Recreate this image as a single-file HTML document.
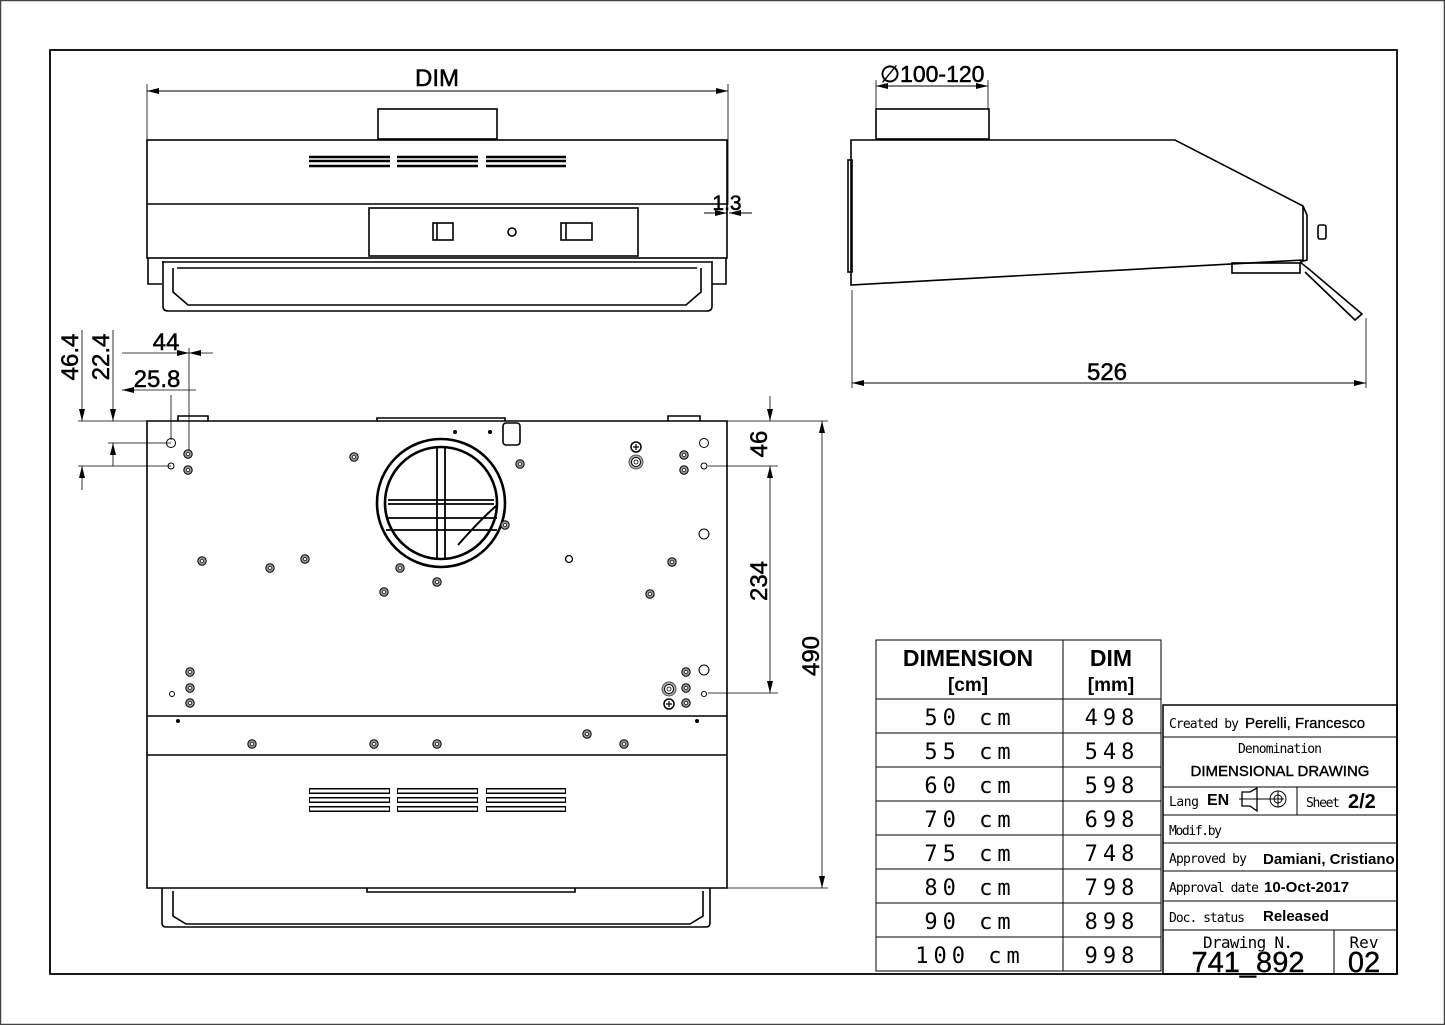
<!DOCTYPE html>
<html><head><meta charset="utf-8"><style>
html,body{margin:0;padding:0;background:#fff}
svg{display:block}
text{font-family:"Liberation Sans",sans-serif;fill:#000}
.iso{font-family:"DejaVu Sans Mono","Liberation Mono",monospace;font-weight:normal}
</style></head><body>
<svg width="1445" height="1025" viewBox="0 0 1445 1025" xmlns="http://www.w3.org/2000/svg">
<defs>
<marker id="a" viewBox="0 0 12 6" refX="12" refY="3" markerWidth="12" markerHeight="6" orient="auto-start-reverse" markerUnits="userSpaceOnUse"><path d="M0,0L12,3L0,6z" fill="#000"/></marker>
<g id="scr"><circle r="4.2" fill="#999" stroke="#000" stroke-width="1"/><circle r="1.6" fill="#fff" stroke="#000" stroke-width=".6"/></g>
<g id="gnd"><circle r="5" fill="#fff" stroke="#000" stroke-width="1.5"/><path d="M-3,0H3M0,-3V3" stroke="#000" stroke-width="1.2"/></g>
<g id="big"><circle r="7" fill="#aaa" stroke="#555"/><circle r="4.5" fill="#fff" stroke="#000"/><circle r="2" fill="#fff" stroke="#000" stroke-width=".8"/></g>
</defs>
<rect x="0.5" y="0.5" width="1444" height="1024" fill="none" stroke="#444" stroke-width="1.5"/>
<rect x="50" y="50" width="1347" height="924" fill="none" stroke="#000" stroke-width="1.8"/>

<g fill="none" stroke="#000" stroke-width="1.6">
<!-- FRONT VIEW -->
<line x1="147" y1="84" x2="147" y2="140" stroke-width=".8"/>
<line x1="728" y1="84" x2="728" y2="205" stroke-width=".8"/>
<line x1="147" y1="91" x2="728" y2="91" stroke-width="1" marker-start="url(#a)" marker-end="url(#a)"/>
<rect x="378" y="109" width="119" height="30"/>
<rect x="147" y="140" width="580" height="118"/>
<line x1="147" y1="204" x2="727" y2="204"/>
<g stroke-width="2.6">
<path d="M309,157H390M309,161H390M309,166H390M397,157H478M397,161H478M397,166H478M486,157H566M486,161H566M486,166H566"/>
</g>
<rect x="369" y="208" width="269" height="48"/>
<rect x="433" y="223" width="20" height="17"/><line x1="437" y1="223" x2="437" y2="240"/>
<circle cx="512" cy="232" r="4"/>
<rect x="561" y="223" width="31" height="17"/><line x1="566" y1="223" x2="566" y2="240"/>
<line x1="704" y1="213" x2="727" y2="213" stroke-width="1" marker-end="url(#a)"/>
<line x1="752" y1="213" x2="729" y2="213" stroke-width="1" marker-end="url(#a)"/>
<path d="M148,258V284H162M726,258V284H712"/>
<path d="M162,262H712"/>
<path d="M163,261V306Q163,311 168,311H707Q712,311 712,306V261"/>
<path d="M173,268V292L188,305H686L701,292V268"/>
<line x1="177" y1="268" x2="697" y2="268"/>

<!-- SIDE VIEW -->
<line x1="876" y1="80" x2="876" y2="109" stroke-width=".8"/>
<line x1="988" y1="80" x2="988" y2="109" stroke-width=".8"/>
<line x1="876" y1="86" x2="988" y2="86" stroke-width="1" marker-start="url(#a)" marker-end="url(#a)"/>
<rect x="876" y="109" width="113" height="30"/>
<path d="M851,140H1175L1303,206V260L851,285Z"/>
<rect x="848" y="160" width="4" height="112"/>
<path d="M1303,206L1307,215V260L1300,262"/>
<rect x="1318" y="225" width="8" height="14" rx="2"/>
<rect x="1232" y="263" width="68" height="10"/>
<path d="M1300,262L1310,270L1362,314L1355,320L1305,272"/>
<line x1="852" y1="290" x2="852" y2="388" stroke-width=".8"/>
<line x1="1366" y1="318" x2="1366" y2="388" stroke-width=".8"/>
<line x1="852" y1="383" x2="1366" y2="383" stroke-width="1" marker-start="url(#a)" marker-end="url(#a)"/>

<!-- PLAN VIEW -->
<path d="M147,421H727V888H147Z"/>
<line x1="147" y1="716" x2="727" y2="716"/>
<line x1="147" y1="755" x2="727" y2="755"/>
<path d="M178,421V416H208V421M377,421V418H505V421M668,421V416H700V421"/>
<rect x="503" y="423" width="17" height="22" rx="3"/>
<path d="M367,888V892H575V888M162,888V923Q162,927 166,927H706Q710,927 710,923V888"/>
<path d="M173,891V916L186,924H690L703,916V891"/>
<g stroke-width="2.6"><circle cx="441" cy="503" r="64"/><circle cx="441" cy="503" r="56"/></g>
<path d="M437,448V558M445,448V558M388,500H494M388,504H494M386,518H497M386,530H497" stroke-width="1.8"/>
<path d="M458,545Q480,520 496,506" stroke-width="2"/>
<path d="M309,791H390M309,800H390M309,809H390M397,791H478M397,800H478M397,809H478M486,791H566M486,800H566M486,809H566" stroke-width="6" stroke="#000"/>
<path d="M310,791H389M310,800H389M310,809H389M398,791H477M398,800H477M398,809H477M487,791H565M487,800H565M487,809H565" stroke-width="3" stroke="#fff"/>
<circle cx="171" cy="443" r="4.5" stroke-width="1"/><circle cx="171" cy="466" r="3" stroke-width="1"/>
<circle cx="704" cy="443" r="4.5" stroke-width="1"/><circle cx="704" cy="466" r="3" stroke-width="1"/><circle cx="704" cy="534" r="5" stroke-width="1"/>
<circle cx="569" cy="559" r="3.5" stroke-width="1.3"/>
<circle cx="704" cy="670" r="5" stroke-width="1"/><circle cx="704" cy="694" r="2.5" stroke-width="1"/><circle cx="172" cy="694" r="2.5" stroke-width="1"/>
<!-- dims plan -->
<g stroke-width=".8">
<line x1="78" y1="421" x2="147" y2="421"/><line x1="78" y1="466" x2="171" y2="466"/><line x1="108" y1="443" x2="171" y2="443"/>
<line x1="82" y1="330" x2="82" y2="421" marker-end="url(#a)"/><line x1="82" y1="490" x2="82" y2="466" marker-end="url(#a)"/>
<line x1="113" y1="330" x2="113" y2="421" marker-end="url(#a)"/><line x1="113" y1="466" x2="113" y2="443" marker-end="url(#a)"/>
<line x1="189" y1="348" x2="189" y2="456"/><line x1="171" y1="395" x2="171" y2="440"/>
<line x1="122" y1="353" x2="189" y2="353" marker-end="url(#a)"/><line x1="213" y1="353" x2="189" y2="353" marker-end="url(#a)"/>
<line x1="122" y1="390" x2="171" y2="390" marker-start="url(#a)"/><line x1="171" y1="390" x2="196" y2="390"/>
<line x1="727" y1="421" x2="828" y2="421"/><line x1="708" y1="466" x2="778" y2="466"/><line x1="708" y1="693" x2="778" y2="693"/><line x1="727" y1="888" x2="828" y2="888"/>
<line x1="770" y1="396" x2="770" y2="421" marker-end="url(#a)"/>
<line x1="770" y1="466" x2="770" y2="693" marker-start="url(#a)" marker-end="url(#a)"/>
<line x1="822" y1="421" x2="822" y2="888" marker-start="url(#a)" marker-end="url(#a)"/>
</g>
</g>
<g>
<use href="#scr" x="188" y="454"/><use href="#scr" x="188" y="470"/><use href="#scr" x="354" y="457"/><use href="#scr" x="520" y="464"/>
<use href="#scr" x="202" y="561"/><use href="#scr" x="270" y="568"/><use href="#scr" x="305" y="559"/><use href="#scr" x="384" y="592"/>
<use href="#scr" x="437" y="582"/><use href="#scr" x="672" y="562"/><use href="#scr" x="650" y="594"/><use href="#scr" x="684" y="455"/>
<use href="#scr" x="684" y="470"/><use href="#scr" x="505" y="525"/><use href="#scr" x="400" y="568"/>
<use href="#gnd" x="636" y="447"/><use href="#big" x="636" y="462"/>
<use href="#scr" x="190" y="672"/><use href="#scr" x="190" y="688"/><use href="#scr" x="190" y="703"/>
<use href="#scr" x="686" y="672"/><use href="#scr" x="686" y="688"/><use href="#scr" x="686" y="703"/>
<use href="#big" x="669" y="689"/><use href="#gnd" x="669" y="704"/>
<use href="#scr" x="252" y="744"/><use href="#scr" x="374" y="744"/><use href="#scr" x="437" y="744"/><use href="#scr" x="587" y="734"/><use href="#scr" x="624" y="744"/>
<circle cx="178" cy="721" r="2" fill="#000"/><circle cx="697" cy="721" r="2" fill="#000"/>
<circle cx="455" cy="432" r="2" fill="#000"/><circle cx="490" cy="432" r="2" fill="#000"/>
</g>

<!-- dim texts -->
<g stroke="#000" stroke-width=".5">
<text x="437" y="86" font-size="24" text-anchor="middle">DIM</text>
<text x="727" y="210" font-size="21" text-anchor="middle">1.3</text>
<text x="880" y="82" font-size="23">∅100-120</text>
<text x="1107" y="380" font-size="24" text-anchor="middle">526</text>
<text transform="translate(78,357) rotate(-90)" font-size="24" text-anchor="middle">46.4</text>
<text transform="translate(109,357) rotate(-90)" font-size="24" text-anchor="middle">22.4</text>
<text x="166" y="350" font-size="24" text-anchor="middle">44</text>
<text x="157" y="387" font-size="24" text-anchor="middle">25.8</text>
<text transform="translate(767,444) rotate(-90)" font-size="24" text-anchor="middle">46</text>
<text transform="translate(767,581) rotate(-90)" font-size="24" text-anchor="middle">234</text>
<text transform="translate(819,656) rotate(-90)" font-size="24" text-anchor="middle">490</text>
</g>

<!-- TABLE -->
<g fill="none" stroke="#000" stroke-width="1">
<rect x="876" y="640" width="285" height="331"/>
<line x1="1063" y1="640" x2="1063" y2="971"/>
<path d="M876,699H1161M876,733H1161M876,767H1161M876,801H1161M876,835H1161M876,869H1161M876,903H1161M876,937H1161"/>
</g>
<text x="968" y="666" font-size="23" font-weight="bold" text-anchor="middle">DIMENSION</text>
<text x="968" y="691" font-size="19" font-weight="bold" text-anchor="middle">[cm]</text>
<text x="1111" y="666" font-size="23" font-weight="bold" text-anchor="middle">DIM</text>
<text x="1111" y="691" font-size="19" font-weight="bold" text-anchor="middle">[mm]</text>
<g font-size="22" text-anchor="middle" fill="#444" letter-spacing="5">
<text x="970" y="725" class="iso">50 cm</text><text x="1112" y="725" class="iso">498</text>
<text x="970" y="759" class="iso">55 cm</text><text x="1112" y="759" class="iso">548</text>
<text x="970" y="793" class="iso">60 cm</text><text x="1112" y="793" class="iso">598</text>
<text x="970" y="827" class="iso">70 cm</text><text x="1112" y="827" class="iso">698</text>
<text x="970" y="861" class="iso">75 cm</text><text x="1112" y="861" class="iso">748</text>
<text x="970" y="895" class="iso">80 cm</text><text x="1112" y="895" class="iso">798</text>
<text x="970" y="929" class="iso">90 cm</text><text x="1112" y="929" class="iso">898</text>
<text x="970" y="963" class="iso">100 cm</text><text x="1112" y="963" class="iso">998</text>
</g>

<!-- TITLE BLOCK -->
<g fill="none" stroke="#000" stroke-width="1">
<rect x="1163" y="705" width="234" height="269" stroke-width="1.5"/>
<path d="M1163,737H1397M1163,787H1397M1163,815H1397M1163,843H1397M1163,871H1397M1163,901H1397M1163,930H1397"/>
<line x1="1297" y1="787" x2="1297" y2="815"/>
<line x1="1334" y1="930" x2="1334" y2="974"/>
<path d="M1242,792H1250L1257,788V811L1250,806H1242Z" stroke-width="1.3"/>
<path d="M1239,799H1284M1278,791V807"/>
<circle cx="1278" cy="799" r="8"/><circle cx="1278" cy="799" r="4"/>
</g>
<g font-size="13">
<text x="1169" y="728" class="iso" textLength="70">Created by</text>
<text x="1245" y="728" font-size="15" stroke="#000" stroke-width=".3">Perelli,  Francesco</text>
<text x="1280" y="753" class="iso" text-anchor="middle" textLength="84">Denomination</text>
<text x="1280" y="776" font-size="15" stroke="#000" stroke-width=".4" text-anchor="middle">DIMENSIONAL  DRAWING</text>
<text x="1169" y="806" class="iso" textLength="30">Lang</text>
<text x="1207" y="805" font-size="16" font-weight="bold">EN</text>
<text x="1306" y="807" class="iso" textLength="34">Sheet</text>
<text x="1348" y="808" font-size="20" font-weight="bold">2/2</text>
<text x="1169" y="835" class="iso" textLength="53">Modif.by</text>
<text x="1169" y="863" class="iso" textLength="78">Approved by</text>
<text x="1263" y="864" font-size="15" font-weight="bold">Damiani, Cristiano</text>
<text x="1169" y="892" class="iso" textLength="90">Approval date</text>
<text x="1264" y="892" font-size="15" font-weight="bold">10-Oct-2017</text>
<text x="1169" y="922" class="iso" textLength="76">Doc. status</text>
<text x="1263" y="921" font-size="15" font-weight="bold">Released</text>
<text x="1248" y="948" font-size="16" class="iso" text-anchor="middle" textLength="90">Drawing N.</text>
<text x="1248" y="972" font-size="29" stroke="#000" stroke-width=".4" text-anchor="middle">741_892</text>
<text x="1364" y="948" font-size="16" class="iso" text-anchor="middle">Rev</text>
<text x="1364" y="972" font-size="29" stroke="#000" stroke-width=".4" text-anchor="middle">02</text>
</g>
</svg>
</body></html>
